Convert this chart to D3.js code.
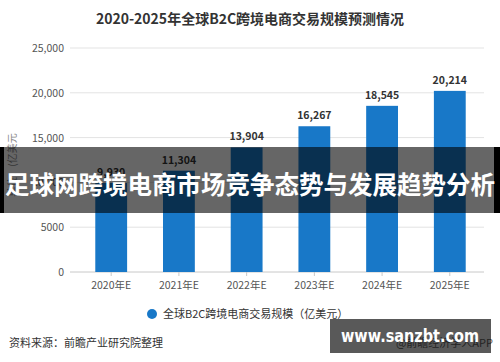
<!DOCTYPE html>
<html>
<head>
<meta charset="utf-8">
<script src="https://cdn.jsdelivr.net/npm/d3@7"></script>
<style>
  body { margin: 0; background: #fff; }
  svg { display: block; font-family: "Noto Sans CJK SC", "Microsoft YaHei", sans-serif; }
</style>
</head>
<body>
<div id="chart"></div>
<script>
// data
var years = ['2020年E', '2021年E', '2022年E', '2023年E', '2024年E', '2025年E'];
var values = [9930, 11304, 13904, 16267, 18545, 20214];
var yTicks = [0, 5000, 10000, 15000, 20000, 25000];

var W = 500, H = 362;
var margin = {left: 72, right: 16, top: 48, bottom: 90};
var barColor = '#1878c8';

var svg = d3.select('#chart').append('svg')
  .attr('width', W).attr('height', H);

var x = d3.scaleBand().domain(years)
  .range([77, W - margin.right])
  .paddingInner(0.53).paddingOuter(0.27);
var y = d3.scaleLinear().domain([0, 25000])
  .range([H - margin.bottom, margin.top]);

// title
svg.append('text')
  .attr('x', 250).attr('y', 24)
  .attr('text-anchor', 'middle')
  .attr('font-size', 14).attr('font-weight', 'bold').attr('fill', '#333')
  .text('2020-2025年全球B2C跨境电商交易规模预测情况');

// gridlines + y labels
var fmt = function(v) { return v >= 10000 ? d3.format(',')(v) : String(v); };
var yAxis = svg.append('g');
yAxis.selectAll('line').data(yTicks).enter().append('line')
  .attr('x1', margin.left - 2).attr('x2', W - margin.right)
  .attr('y1', function(d) { return y(d); })
  .attr('y2', function(d) { return y(d); })
  .attr('stroke', function(d) { return d === 0 ? '#c8c8c8' : '#e3e3e3'; })
  .attr('stroke-width', 1);
yAxis.selectAll('text').data(yTicks).enter().append('text')
  .attr('x', margin.left - 8)
  .attr('y', function(d) { return y(d) + 4; })
  .attr('text-anchor', 'end')
  .attr('font-size', 10.5).attr('fill', '#555')
  .text(fmt);

// unit label
svg.append('text')
  .attr('transform', 'translate(16,' + 165 + ') rotate(-90)')
  .attr('text-anchor', 'middle')
  .attr('font-size', 10).attr('fill', '#888')
  .text('单位：(亿美元');

// bars
svg.append('g').selectAll('rect').data(values).enter().append('rect')
  .attr('x', function(d, i) { return x(years[i]); })
  .attr('width', x.bandwidth())
  .attr('y', function(d) { return y(d); })
  .attr('height', function(d) { return y(0) - y(d); })
  .attr('fill', barColor);

svg.append('g').selectAll('text').data(values).enter().append('text')
  .attr('x', function(d, i) { return x(years[i]) + x.bandwidth() / 2; })
  .attr('y', function(d) { return y(d) - 7; })
  .attr('text-anchor', 'middle')
  .attr('font-size', 10.5).attr('font-weight', 'bold').attr('fill', '#333')
  .text(d3.format(','));

// x axis ticks and labels
var xg = svg.append('g');
xg.selectAll('line').data(years).enter().append('line')
  .attr('x1', function(d) { return x(d) + x.bandwidth() / 2; })
  .attr('x2', function(d) { return x(d) + x.bandwidth() / 2; })
  .attr('y1', y(0)).attr('y2', y(0) + 4)
  .attr('stroke', '#c8c8c8');
xg.selectAll('text').data(years).enter().append('text')
  .attr('x', function(d) { return x(d) + x.bandwidth() / 2; })
  .attr('y', y(0) + 17)
  .attr('text-anchor', 'middle')
  .attr('font-size', 10.5).attr('fill', '#555')
  .text(function(d) { return d; });

// legend
svg.append('circle').attr('cx', 152).attr('cy', 314).attr('r', 5).attr('fill', barColor);
svg.append('text').attr('x', 163).attr('y', 318)
  .attr('font-size', 11).attr('fill', '#333')
  .text('全球B2C跨境电商交易规模（亿美元）');

// source
svg.append('text').attr('x', 9).attr('y', 347)
  .attr('font-size', 11).attr('fill', '#333')
  .text('资料来源：前瞻产业研究院整理');
svg.append('text').attr('x', 493).attr('y', 347)
  .attr('text-anchor', 'end')
  .attr('font-size', 11).attr('fill', '#666')
  .text('@前瞻经济学人APP');

// overlay banner
svg.append('rect').attr('x', 0).attr('y', 147).attr('width', W).attr('height', 66)
  .attr('fill', '#000').attr('fill-opacity', 0.6);
svg.append('rect').attr('x', 0).attr('y', 147).attr('width', 4).attr('height', 66).attr('fill', '#000');
svg.append('rect').attr('x', 494).attr('y', 147).attr('width', 6).attr('height', 66).attr('fill', '#000');
svg.append('text').attr('x', 250).attr('y', 194)
  .attr('text-anchor', 'middle')
  .attr('font-size', 24.5).attr('font-weight', 'bold').attr('fill', '#fff')
  .text('足球网跨境电商市场竞争态势与发展趋势分析');

// site badge
svg.append('rect').attr('x', 330).attr('y', 319).attr('width', 161).attr('height', 34)
  .attr('fill', '#000').attr('fill-opacity', 0.65);
svg.append('text').attr('x', 410).attr('y', 342)
  .attr('text-anchor', 'middle')
  .attr('font-family', 'DejaVu Sans, sans-serif')
  .attr('font-size', 17).attr('font-weight', 'bold').attr('fill', '#fff')
  .attr('textLength', 138).attr('lengthAdjust', 'spacingAndGlyphs')
  .text('www.sanzbt.com');
</script>
</body>
</html>
